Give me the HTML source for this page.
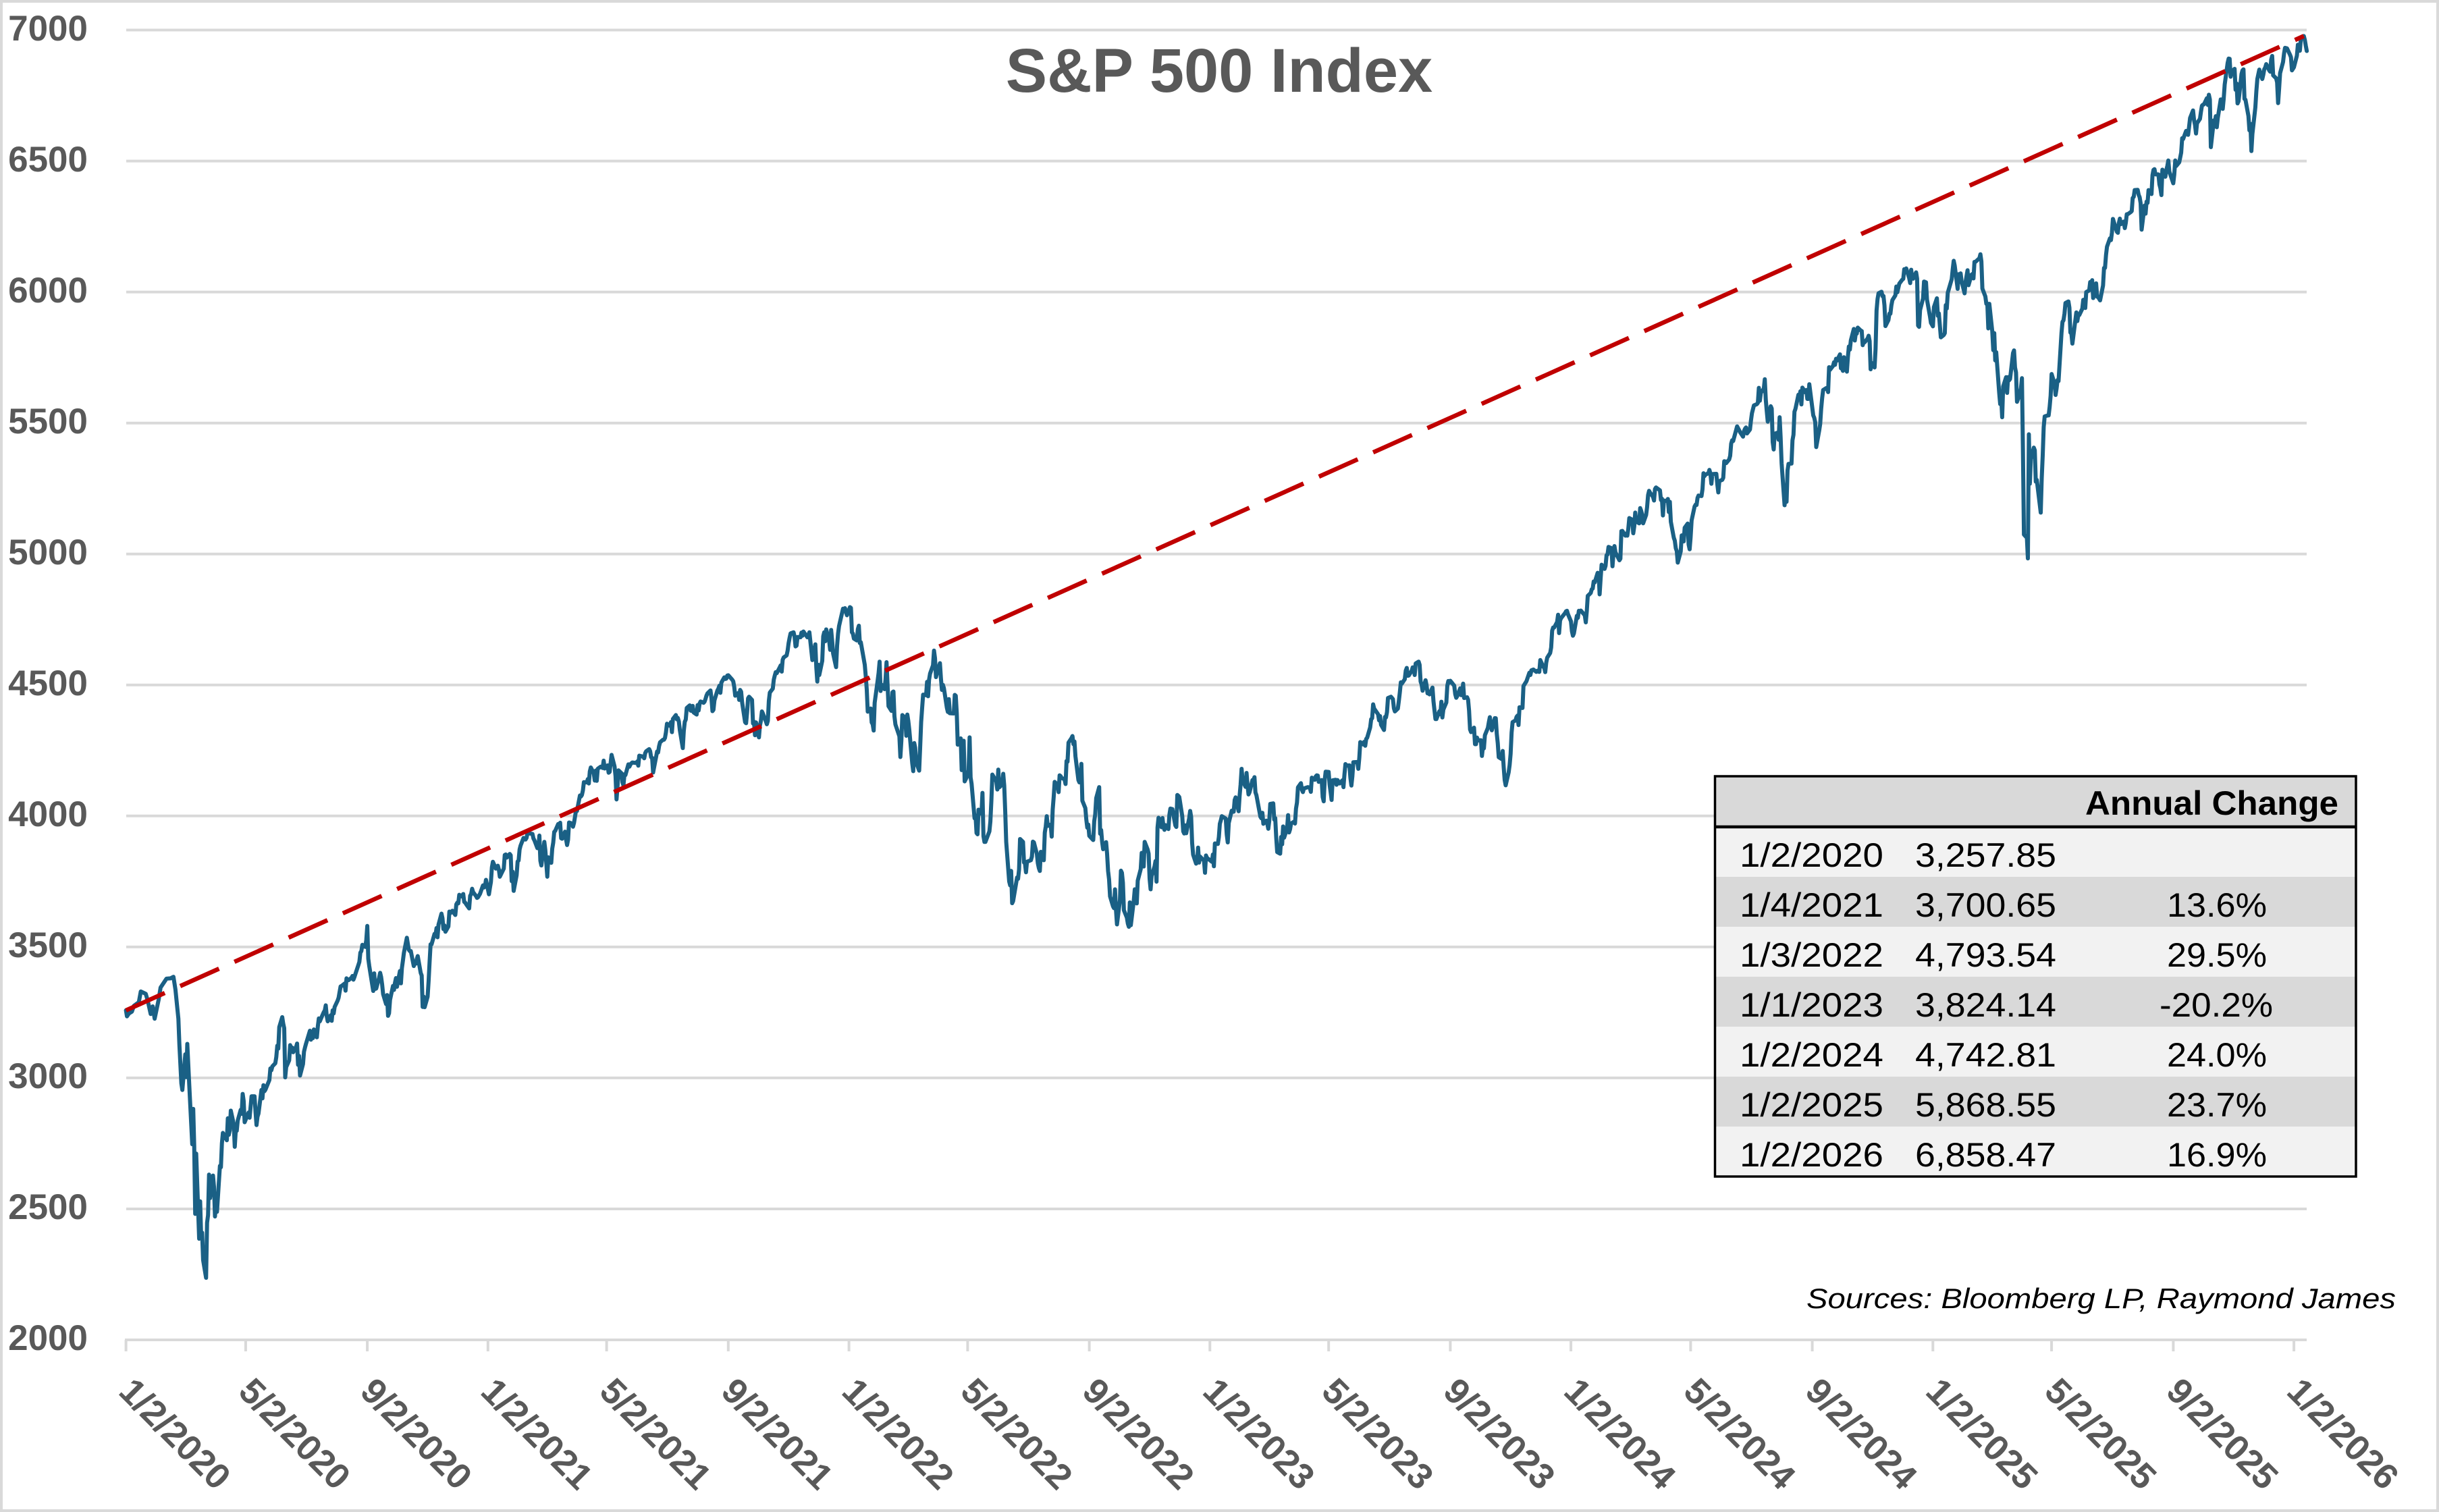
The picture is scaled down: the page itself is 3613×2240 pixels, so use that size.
<!DOCTYPE html>
<html>
<head>
<meta charset="utf-8">
<style>
html,body{margin:0;padding:0;background:#fff;}
svg{display:block;}
text{font-family:"Liberation Sans",Arial,sans-serif;}
</style>
</head>
<body>
<svg width="3613" height="2240" viewBox="0 0 3613 2240" xmlns="http://www.w3.org/2000/svg">
<rect x="0" y="0" width="3613" height="2240" fill="#ffffff"/>
<rect x="2" y="2" width="3609" height="2236" fill="none" stroke="#d9d9d9" stroke-width="4"/>

<!-- gridlines -->
<g stroke="#d9d9d9" stroke-width="4">
<line x1="187" y1="44.5" x2="3417" y2="44.5"/>
<line x1="187" y1="238.6" x2="3417" y2="238.6"/>
<line x1="187" y1="432.6" x2="3417" y2="432.6"/>
<line x1="187" y1="626.7" x2="3417" y2="626.7"/>
<line x1="187" y1="820.7" x2="3417" y2="820.7"/>
<line x1="187" y1="1014.8" x2="3417" y2="1014.8"/>
<line x1="187" y1="1208.8" x2="3417" y2="1208.8"/>
<line x1="187" y1="1402.9" x2="3417" y2="1402.9"/>
<line x1="187" y1="1596.9" x2="3417" y2="1596.9"/>
<line x1="187" y1="1791" x2="3417" y2="1791"/>
<line x1="185" y1="1985" x2="3417" y2="1985"/>
<!-- ticks -->
<line x1="186.6" y1="1985" x2="186.6" y2="2002"/>
<line x1="363.9" y1="1985" x2="363.9" y2="2002"/>
<line x1="544.1" y1="1985" x2="544.1" y2="2002"/>
<line x1="722.8" y1="1985" x2="722.8" y2="2002"/>
<line x1="898.6" y1="1985" x2="898.6" y2="2002"/>
<line x1="1078.8" y1="1985" x2="1078.8" y2="2002"/>
<line x1="1257.6" y1="1985" x2="1257.6" y2="2002"/>
<line x1="1433.4" y1="1985" x2="1433.4" y2="2002"/>
<line x1="1613.6" y1="1985" x2="1613.6" y2="2002"/>
<line x1="1792.3" y1="1985" x2="1792.3" y2="2002"/>
<line x1="1968.2" y1="1985" x2="1968.2" y2="2002"/>
<line x1="2148.4" y1="1985" x2="2148.4" y2="2002"/>
<line x1="2327.1" y1="1985" x2="2327.1" y2="2002"/>
<line x1="2504.4" y1="1985" x2="2504.4" y2="2002"/>
<line x1="2684.6" y1="1985" x2="2684.6" y2="2002"/>
<line x1="2863.3" y1="1985" x2="2863.3" y2="2002"/>
<line x1="3039.1" y1="1985" x2="3039.1" y2="2002"/>
<line x1="3219.4" y1="1985" x2="3219.4" y2="2002"/>
<line x1="3398.1" y1="1985" x2="3398.1" y2="2002"/>
</g>

<!-- y labels -->
<g font-size="53" font-weight="bold" fill="#595959" text-anchor="end">
<text x="130" y="60">7000</text>
<text x="130" y="254">6500</text>
<text x="130" y="448">6000</text>
<text x="130" y="642">5500</text>
<text x="130" y="836">5000</text>
<text x="130" y="1030">4500</text>
<text x="130" y="1224">4000</text>
<text x="130" y="1418">3500</text>
<text x="130" y="1612">3000</text>
<text x="130" y="1806">2500</text>
<text x="130" y="2000">2000</text>
</g>

<!-- x labels -->
<g font-size="53" font-weight="bold" fill="#595959">
<text transform="translate(173.6,2064) rotate(45)">1/2/2020</text>
<text transform="translate(350.9,2064) rotate(45)">5/2/2020</text>
<text transform="translate(531.1,2064) rotate(45)">9/2/2020</text>
<text transform="translate(709.8,2064) rotate(45)">1/2/2021</text>
<text transform="translate(885.6,2064) rotate(45)">5/2/2021</text>
<text transform="translate(1065.8,2064) rotate(45)">9/2/2021</text>
<text transform="translate(1244.6,2064) rotate(45)">1/2/2022</text>
<text transform="translate(1420.4,2064) rotate(45)">5/2/2022</text>
<text transform="translate(1600.6,2064) rotate(45)">9/2/2022</text>
<text transform="translate(1779.3,2064) rotate(45)">1/2/2023</text>
<text transform="translate(1955.2,2064) rotate(45)">5/2/2023</text>
<text transform="translate(2135.4,2064) rotate(45)">9/2/2023</text>
<text transform="translate(2314.1,2064) rotate(45)">1/2/2024</text>
<text transform="translate(2491.4,2064) rotate(45)">5/2/2024</text>
<text transform="translate(2671.6,2064) rotate(45)">9/2/2024</text>
<text transform="translate(2850.3,2064) rotate(45)">1/2/2025</text>
<text transform="translate(3026.1,2064) rotate(45)">5/2/2025</text>
<text transform="translate(3206.4,2064) rotate(45)">9/2/2025</text>
<text transform="translate(3385.1,2064) rotate(45)">1/2/2026</text>
</g>

<!-- title -->
<text x="1806" y="136" text-anchor="middle" font-size="92" font-weight="bold" fill="#595959">S&amp;P 500 Index</text>

<!-- S&P series -->
<g transform="matrix(1.4651 0 0 -0.3881 186.6 2761.2)">
<polyline fill="none" stroke="#1a6085" stroke-width="6" stroke-linejoin="round" stroke-linecap="round" vector-effect="non-scaling-stroke" points="
0,3258 1,3235 3,3246 6,3253 8,3275 13,3289 15,3330 20,3321 22,3295 25,3244 27,3273 29,3226 33,3298 35,3345 41,3379 45,3380 48,3386 50,3338 53,3226 54,3128 56,2979 57,2954 60,3090 61,3003 62,3130 64,2972 67,2747 68,2882 69,2741 70,2481 71,2711 74,2386 75,2529 76,2398 77,2409 78,2305 81,2237 82,2447 83,2476 84,2631 85,2541 88,2627 89,2585 90,2471 91,2527 92,2489 95,2664 96,2659 97,2750 98,2790 102,2762 103,2846 104,2783 105,2800 106,2875 109,2823 110,2737 111,2799 112,2798 113,2837 116,2878 117,2863 118,2939 119,2912 120,2831 124,2868 125,2848 127,2930 130,2930 131,2870 132,2820 133,2852 134,2864 137,2954 138,2922 139,2972 140,2949 141,2955 145,2992 146,3036 147,3029 148,3044 151,3056 152,3080 153,3123 154,3112 155,3194 158,3232 159,3207 160,3190 161,3002 162,3041 165,3067 166,3125 167,3113 168,3116 169,3098 172,3118 173,3131 174,3050 175,3084 176,3009 179,3053 180,3100 181,3116 182,3130 186,3180 187,3146 188,3169 189,3152 190,3185 193,3155 194,3197 195,3227 196,3216 197,3225 200,3251 201,3257 202,3277 203,3236 204,3216 207,3239 208,3218 209,3258 210,3246 211,3271 214,3295 215,3306 216,3328 217,3349 218,3351 221,3360 222,3333 223,3380 224,3373 225,3373 228,3382 229,3389 230,3375 231,3385 232,3397 235,3431 236,3443 237,3478 238,3484 239,3508 242,3500 243,3527 244,3580 245,3455 246,3427 250,3332 251,3399 252,3340 253,3341 256,3383 257,3401 258,3385 259,3357 260,3320 263,3282 264,3316 265,3237 266,3247 267,3298 270,3351 271,3336 272,3363 273,3381 274,3348 277,3408 278,3361 279,3419 280,3447 281,3477 284,3535 285,3512 286,3489 287,3484 288,3484 291,3427 292,3443 293,3436 294,3453 295,3465 298,3401 299,3391 300,3271 301,3310 302,3270 305,3310 306,3370 307,3443 308,3510 309,3510 312,3550 313,3545 314,3572 315,3537 316,3585 319,3627 320,3610 321,3568 322,3582 323,3558 326,3578 327,3635 328,3629 330,3638 333,3622 334,3662 335,3669 336,3666 337,3699 340,3692 341,3702 342,3672 343,3669 344,3663 347,3647 348,3695 349,3702 350,3722 351,3709 354,3694 355,3687 356,3690 358,3703 361,3735 362,3727 363,3732 364,3756
367,3701 368,3726 369,3748 370,3804 371,3825 374,3799 375,3802 376,3810 377,3796 378,3768 382,3799 383,3851 384,3853 385,3841 388,3855 389,3850 390,3751 391,3787 392,3714 395,3774 396,3826 397,3830 398,3872 399,3887 402,3916 403,3911 404,3910 405,3916 406,3934 410,3932 411,3931 412,3914 413,3907 416,3877 417,3881 418,3925 419,3829 420,3811 423,3901 424,3870 425,3820 426,3768 427,3842 430,3821 431,3875 432,3898 433,3939 434,3943 437,3969 438,3963 439,3974 440,3915 441,3913 444,3940 445,3910 446,3889 447,3909 448,3975 451,3971 452,3959 453,3973 455,4020 456,4019 459,4078 460,4074 461,4080 462,4097 463,4129 466,4128 467,4141 468,4124 469,4170 470,4185 473,4163 474,4135 475,4173 476,4134 477,4180 480,4188 481,4187 482,4183 483,4211 484,4181 487,4193 488,4165 489,4168 490,4201 491,4233 494,4189 495,4152 496,4063 497,4112 498,4174 501,4163 502,4128 503,4116 504,4159 505,4156 508,4197 509,4188 510,4196 511,4201 512,4204 516,4202 517,4208 518,4192 519,4230 522,4227 523,4227 524,4220 525,4240 526,4247 529,4255 530,4247 531,4224 532,4222 533,4166 536,4225 537,4246 538,4242 539,4266 540,4281 543,4291 544,4291 545,4298 546,4320 547,4352 550,4344 551,4358 552,4320 553,4370 556,4385 557,4369 558,4374 559,4361 560,4328 563,4259 564,4324 565,4359 566,4368 567,4412 570,4422 571,4402 572,4401 573,4420 574,4395 577,4387 578,4423 579,4403 580,4429 581,4437 584,4432 585,4436 586,4447 587,4460 588,4468 591,4479 592,4449 593,4400 594,4405 595,4441 598,4479 599,4486 600,4497 601,4470 602,4509 605,4529 606,4523 607,4524 608,4536 609,4537 613,4520 614,4514 615,4493 616,4459 619,4469 620,4443 621,4481 622,4474 623,4433 626,4358 627,4354 628,4395 629,4449 630,4455 633,4443 634,4353 635,4360 636,4308 637,4357 640,4300 641,4345 642,4364 643,4399 644,4391 647,4361 648,4350 649,4363 650,4439 651,4471 654,4486 655,4520 656,4536 657,4549 658,4545 661,4567 662,4575 663,4551 664,4596 665,4605 668,4613 669,4631 670,4660 671,4680 672,4697 675,4701 676,4685 677,4647 678,4650 679,4683 682,4682 683,4700 684,4688 685,4704 686,4698 689,4682 690,4690 691,4701 694,4595 697,4655 698,4567 699,4513 700,4577 701,4538 704,4592 705,4686 706,4701 707,4667 708,4712 711,4668 712,4634 713,4710 714,4669 715,4620 718,4568 719,4649 720,4696 721,4725 725,4791 726,4786 727,4793 728,4778 729,4766
732,4797 733,4794 734,4701 735,4696 736,4677 739,4670 740,4713 741,4726 742,4660 743,4663 747,4577 748,4533 749,4483 750,4398 753,4410 754,4357 755,4350 756,4326 757,4432 760,4516 761,4546 762,4589 763,4477 764,4501 767,4484 768,4521 769,4587 770,4504 771,4419 774,4401 775,4472 776,4475 777,4380 778,4349 782,4304 783,4225 784,4288 785,4385 788,4374 789,4306 790,4387 791,4363 792,4329 795,4201 796,4171 797,4278 798,4260 799,4204 802,4173 803,4262 804,4358 805,4412 806,4463 809,4461 810,4512 811,4457 812,4520 813,4543 816,4575 817,4631 818,4602 819,4530 820,4546 823,4583 824,4525 825,4481 826,4500 827,4488 830,4413 831,4397 832,4446 833,4392 837,4391 838,4462 839,4459 840,4393 841,4272 844,4296 845,4175 846,4183 847,4287 848,4132 851,4155 852,4175 853,4300 854,4147 855,4123 858,3991 859,4001 860,3935 861,3930 862,4024 865,4008 866,4088 867,3923 868,3901 869,3901 873,3941 874,3979 875,4058 876,4158 880,4132 881,4101 882,4177 883,4109 886,4121 887,4161 888,4116 889,4018 890,3901 893,3750 894,3735 895,3790 896,3667 897,3675 901,3765 902,3760 903,3796 904,3912 907,3901 908,3822 909,3819 910,3785 911,3825 915,3831 916,3845 917,3902 918,3899 921,3855 922,3819 923,3801 924,3790 925,3863 928,3831 929,3936 930,3960 931,3999 932,3962 935,3967 936,3921 937,4024 938,4072 939,4130 942,4118 943,4091 944,4155 945,4152 946,4145 949,4140 950,4122 951,4210 952,4207 953,4280 956,4297 957,4305 958,4274 959,4284 960,4228 963,4137 964,4128 965,4140 966,4199 967,4058 970,4030 971,3986 972,3955 973,3967 974,3924 978,3908 979,3980 980,4006 981,4068 984,4110 985,3932 986,3946 987,3901 988,3873 991,3900 992,3856 993,3790 994,3758 995,3693 998,3655 999,3648 1000,3720 1001,3641 1002,3586 1005,3679 1006,3791 1007,3783 1008,3745 1009,3640 1012,3612 1013,3589 1014,3577 1015,3670 1016,3583 1019,3677 1020,3720 1021,3696 1022,3666 1023,3753 1026,3797 1027,3859 1028,3831 1029,3807 1030,3901 1033,3872 1034,3856 1035,3760 1036,3720 1037,3771 1040,3807 1041,3828 1042,3749 1043,3956 1044,3993 1047,3957 1048,3992 1049,3959 1050,3947 1051,3965 1054,3950 1055,4004 1056,4028 1058,4026 1061,3964 1062,3958 1063,4080 1064,4077 1065,4072 1068,3999 1069,3941 1070,3933 1071,3964 1072,3934 1075,3991 1076,4019 1077,3996 1078,3896 1079,3852 1082,3818 1083,3822 1084,3879 1085,3822 1086,3845 1090,3829 1091,3783 1092,3849 1093,3840
1098,3825 1099,3853 1100,3808 1101,3895 1104,3893 1105,3919 1106,3970 1107,3983 1108,3999 1112,3990 1113,3929 1114,3899 1115,3973 1118,4020 1119,4017 1120,4016 1121,4061 1122,4071 1125,4018 1126,4077 1127,4120 1128,4180 1129,4136 1132,4111 1133,4164 1134,4118 1135,4082 1136,4090 1139,4137 1140,4136 1141,4148 1142,4090 1143,4079 1147,3997 1148,3991 1149,4012 1150,3970 1153,3982 1154,3970 1155,3951 1156,3982 1157,4046 1160,4048 1161,3986 1162,3992 1163,3918 1164,3862 1167,3856 1168,3920 1169,3892 1170,3960 1171,3917 1174,3952 1175,4003 1176,3937 1177,3949 1178,3971 1181,3978 1182,3971 1183,4028 1184,4051 1185,4109 1188,4125 1189,4100 1190,4091 1191,4105 1195,4110 1196,4109 1197,4108 1198,4092 1199,4146 1202,4138 1203,4151 1204,4155 1205,4154 1206,4130 1209,4137 1210,4072 1211,4056 1212,4136 1213,4169 1216,4168 1217,4119 1218,4091 1219,4061 1220,4136 1223,4138 1224,4119 1225,4137 1226,4130 1227,4124 1230,4136 1231,4110 1232,4159 1233,4198 1234,4192 1237,4193 1238,4146 1239,4116 1240,4151 1241,4205 1245,4206 1246,4180 1247,4221 1248,4282 1251,4273 1252,4283 1253,4268 1254,4294 1255,4299 1258,4338 1259,4369 1260,4373 1261,4426 1262,4410 1266,4388 1267,4365 1268,4381 1269,4348 1272,4328 1273,4378 1274,4376 1275,4396 1276,4450 1279,4455 1281,4446 1282,4411 1283,4399 1286,4410 1287,4439 1288,4472 1289,4510 1290,4505 1293,4522 1294,4555 1295,4565 1296,4535 1297,4536 1300,4554 1301,4567 1302,4567 1303,4538 1304,4582 1307,4589 1308,4577 1309,4513 1310,4502 1311,4478 1314,4518 1315,4499 1316,4468 1317,4468 1318,4464 1321,4490 1322,4438 1323,4404 1324,4370 1325,4370 1328,4400 1329,4388 1330,4436 1331,4376 1332,4406 1335,4433 1336,4497 1337,4515 1338,4508 1339,4516 1343,4497 1344,4465 1345,4451 1346,4457 1349,4487 1350,4461 1351,4467 1352,4505 1353,4450 1356,4453 1357,4444 1358,4402 1359,4330 1360,4320 1363,4337 1364,4274 1365,4274 1366,4299 1367,4288 1370,4289 1371,4229 1372,4263 1373,4258 1374,4308 1377,4336 1378,4358 1379,4377 1380,4349 1381,4327 1384,4373 1385,4373 1386,4314 1387,4278 1388,4224 1391,4217 1392,4248 1393,4186 1394,4137 1395,4117 1398,4166 1399,4194 1400,4237 1401,4318 1402,4358 1405,4365 1406,4378 1407,4383 1408,4347 1409,4415 1412,4412 1413,4496 1414,4502 1415,4508 1416,4514 1419,4547 1420,4538 1421,4556 1423,4559 1426,4550 1427,4554 1428,4551 1429,4550 1430,4595 1433,4569 1434,4567 1435,4549 1436,4585 1437,4604 1440,4622 1441,4643 1442,4707 1443,4719 1444,4719 1447,4740 1448,4768 1449,4698 1450,4746 1451,4755 1455,4774 1456,4781 1457,4783 1458,4770
1461,4743 1462,4705 1463,4688 1464,4697 1467,4764 1468,4756 1469,4783 1470,4780 1471,4784 1475,4766 1476,4739 1477,4781 1478,4840 1481,4851 1482,4865 1483,4868 1484,4895 1485,4891 1488,4928 1489,4925 1490,4846 1491,4906 1492,4959 1495,4943 1496,4955 1497,4995 1498,4998 1499,5027 1502,5022 1503,4953 1504,5001 1505,5030 1506,5006 1510,4976 1511,4982 1512,5087 1513,5088 1516,5070 1517,5078 1518,5070 1519,5096 1520,5137 1523,5131 1524,5079 1525,5105 1526,5158 1527,5124 1530,5117 1531,5175 1532,5165 1533,5150 1534,5117 1537,5149 1538,5179 1539,5225 1540,5241 1541,5234 1544,5218 1545,5204 1546,5248 1547,5254 1551,5243 1552,5206 1553,5211 1554,5147 1555,5204 1558,5202 1559,5210 1560,5160 1561,5199 1562,5123 1565,5062 1566,5051 1567,5022 1568,5011 1569,4967 1572,5010 1573,5071 1574,5071 1575,5048 1576,5100 1579,5116 1580,5036 1581,5018 1582,5064 1583,5128 1586,5181 1587,5188 1588,5187 1589,5214 1590,5223 1593,5221 1594,5247 1595,5308 1596,5297 1597,5303 1600,5308 1601,5321 1602,5307 1603,5268 1604,5305 1608,5306 1609,5266 1610,5235 1611,5278 1614,5283 1615,5291 1616,5354 1617,5353 1618,5347 1621,5361 1622,5375 1623,5421 1624,5434 1625,5431 1628,5473 1629,5487 1631,5473 1632,5465 1635,5448 1636,5469 1637,5478 1638,5483 1639,5460 1642,5475 1643,5509 1644,5537 1646,5567 1649,5572 1650,5577 1651,5634 1652,5585 1653,5615 1656,5631 1657,5667 1658,5589 1659,5545 1660,5505 1663,5564 1664,5555 1665,5427 1666,5399 1667,5459 1670,5463 1671,5436 1672,5522 1673,5446 1674,5346 1677,5186 1678,5240 1679,5199 1680,5319 1681,5344 1684,5345 1685,5434 1686,5455 1687,5543 1688,5554 1691,5608 1692,5597 1693,5621 1694,5571 1695,5635 1698,5617 1699,5626 1700,5592 1701,5592 1702,5648 1706,5529 1707,5520 1708,5503 1709,5408 1712,5471 1713,5496 1714,5554 1715,5595 1716,5626 1719,5633 1720,5634 1721,5618 1722,5713 1723,5703 1726,5718 1727,5732 1728,5722 1729,5745 1730,5738 1733,5762 1734,5709 1735,5709 1736,5699 1737,5751 1740,5696 1741,5751 1742,5792 1743,5780 1744,5815 1747,5859 1748,5815 1749,5842 1750,5841 1751,5864 1754,5853 1755,5851 1756,5797 1757,5809 1758,5808 1761,5823 1762,5833 1763,5813 1764,5705 1765,5729 1768,5712 1769,5783 1770,5929 1771,5973 1772,5995 1775,6001 1776,5984 1777,5985 1778,5949 1779,5870 1782,5893 1783,5917 1784,5917 1785,5949 1786,5969 1789,5987 1790,6021 1791,5999 1793,6032 1796,6047 1797,6050 1798,6087 1799,6075 1800,6090 1803,6053 1804,6034 1805,6085 1806,6052 1807,6051 1810,6075 1811,6051 1812,5872 1813,5867 1814,5931 1817,5975 1818,6040 1820,6037 1821,5971 1824,5907 1825,5882
1827,5869 1828,5942 1831,5976 1832,5909 1833,5918 1835,5827 1838,5836 1839,5843 1840,5950 1841,5937 1842,5997 1846,6049 1847,6086 1848,6119 1849,6101 1852,6012 1853,6068 1854,6039 1855,6071 1856,6041 1859,5995 1860,6038 1861,6061 1862,6083 1863,6026 1866,6066 1867,6069 1868,6052 1869,6115 1870,6115 1874,6129 1875,6144 1876,6117 1877,6013 1880,5983 1881,5955 1882,5956 1883,5861 1884,5955 1887,5850 1888,5778 1889,5843 1890,5739 1891,5770 1894,5615 1895,5572 1896,5599 1897,5522 1898,5639 1901,5675 1902,5615 1903,5675 1904,5663 1905,5668 1908,5767 1909,5777 1910,5712 1911,5693 1912,5581 1915,5612 1916,5633 1917,5671 1918,5397 1919,5074 1922,5062 1923,4983 1924,5457 1925,5268 1926,5363 1929,5406 1930,5396 1931,5276 1932,5283 1936,5158 1937,5288 1938,5376 1939,5485 1940,5525 1943,5529 1944,5529 1945,5561 1946,5604 1947,5687 1950,5650 1951,5607 1952,5631 1953,5664 1954,5660 1957,5844 1958,5886 1959,5892 1960,5917 1961,5958 1964,5964 1965,5940 1966,5845 1967,5842 1968,5803 1972,5922 1973,5889 1974,5912 1975,5912 1978,5936 1979,5970 1980,5971 1981,5939 1982,6000 1985,6006 1986,6038 1987,6022 1988,6045 1989,5977 1992,6033 1993,5982 1994,5981 1996,5968 1999,6025 2000,6092 2001,6092 2002,6141 2003,6173 2006,6205 2007,6198 2008,6227 2009,6279 2013,6230 2014,6226 2015,6263 2016,6280 2017,6259 2020,6269 2021,6244 2022,6264 2023,6297 2024,6297 2027,6305 2028,6309 2029,6359 2030,6363 2031,6389 2034,6390 2035,6371 2036,6362 2037,6339 2038,6238 2041,6330 2042,6299 2043,6345 2044,6340 2045,6389 2048,6374 2049,6446 2050,6466 2051,6469 2052,6449 2055,6449 2056,6411 2057,6396 2058,6370 2059,6467 2062,6440 2063,6466 2064,6481 2065,6502 2066,6460 2070,6415 2071,6448 2072,6502 2073,6481 2076,6495 2077,6513 2078,6532 2079,6587 2080,6584 2083,6615 2084,6606 2085,6600 2086,6631 2087,6664 2090,6693 2091,6657 2092,6638 2093,6605 2094,6644 2097,6661 2098,6688 2099,6711 2100,6715 2101,6716 2104,6740 2105,6714 2106,6753 2107,6735 2108,6553 2111,6655 2112,6644 2113,6671 2114,6629 2115,6664 2118,6735 2119,6735 2120,6699 2121,6738 2122,6792 2125,6875 2126,6891 2127,6890 2128,6822 2129,6840 2132,6852 2133,6772 2134,6796 2135,6720 2136,6728 2139,6832 2140,6846 2141,6850 2142,6737 2143,6734 2146,6672 2147,6617 2148,6642 2149,6538 2150,6603 2153,6705 2154,6766 2155,6813 2157,6849 2160,6813 2161,6829 2162,6850 2163,6857 2164,6870 2167,6846 2168,6841 2169,6887 2170,6901 2171,6827 2174,6816 2175,6800 2176,6721 2177,6775 2178,6835 2181,6878 2182,6910 2183,6932 2185,6930 2188,6906 2189,6896 2190,6846 2192,6858 2195,6902 2196,6944 2197,6921 2198,6921 2199,6966 2202,6977 2203,6963 2204,6940 2205,6920
"/>
</g>

<!-- trend line -->
<line x1="186.6" y1="1496.8" x2="3412.7" y2="53.4" stroke="#c00000" stroke-width="6.5" stroke-dasharray="63 25"/>

<!-- table -->
<g>
<rect x="2540.5" y="1150" width="949.5" height="75" fill="#d9d9d9"/>
<rect x="2540.5" y="1225" width="949.5" height="74" fill="#f2f2f2"/>
<rect x="2540.5" y="1299" width="949.5" height="74" fill="#d9d9d9"/>
<rect x="2540.5" y="1373" width="949.5" height="74" fill="#f2f2f2"/>
<rect x="2540.5" y="1447" width="949.5" height="74" fill="#d9d9d9"/>
<rect x="2540.5" y="1521" width="949.5" height="74" fill="#f2f2f2"/>
<rect x="2540.5" y="1595" width="949.5" height="74" fill="#d9d9d9"/>
<rect x="2540.5" y="1669" width="949.5" height="74" fill="#f2f2f2"/>
<line x1="2540.5" y1="1225" x2="3490" y2="1225" stroke="#000" stroke-width="4.5"/>
<rect x="2540.5" y="1150" width="949.5" height="593" fill="none" stroke="#000" stroke-width="3.5"/>
<text x="3464" y="1207" text-anchor="end" font-size="50" font-weight="bold" fill="#000" textLength="375" lengthAdjust="spacingAndGlyphs">Annual Change</text>
<g font-size="50" fill="#000">
<text x="2577" y="1284" textLength="213" lengthAdjust="spacingAndGlyphs">1/2/2020</text>
<text x="2837" y="1284" textLength="209" lengthAdjust="spacingAndGlyphs">3,257.85</text>
<text x="2577" y="1358" textLength="213" lengthAdjust="spacingAndGlyphs">1/4/2021</text>
<text x="2837" y="1358" textLength="209" lengthAdjust="spacingAndGlyphs">3,700.65</text>
<text x="3284" y="1358" text-anchor="middle" textLength="148" lengthAdjust="spacingAndGlyphs">13.6%</text>
<text x="2577" y="1432" textLength="213" lengthAdjust="spacingAndGlyphs">1/3/2022</text>
<text x="2837" y="1432" textLength="209" lengthAdjust="spacingAndGlyphs">4,793.54</text>
<text x="3284" y="1432" text-anchor="middle" textLength="148" lengthAdjust="spacingAndGlyphs">29.5%</text>
<text x="2577" y="1506" textLength="213" lengthAdjust="spacingAndGlyphs">1/1/2023</text>
<text x="2837" y="1506" textLength="209" lengthAdjust="spacingAndGlyphs">3,824.14</text>
<text x="3283" y="1506" text-anchor="middle" textLength="168" lengthAdjust="spacingAndGlyphs">-20.2%</text>
<text x="2577" y="1580" textLength="213" lengthAdjust="spacingAndGlyphs">1/2/2024</text>
<text x="2837" y="1580" textLength="209" lengthAdjust="spacingAndGlyphs">4,742.81</text>
<text x="3284" y="1580" text-anchor="middle" textLength="148" lengthAdjust="spacingAndGlyphs">24.0%</text>
<text x="2577" y="1654" textLength="213" lengthAdjust="spacingAndGlyphs">1/2/2025</text>
<text x="2837" y="1654" textLength="209" lengthAdjust="spacingAndGlyphs">5,868.55</text>
<text x="3284" y="1654" text-anchor="middle" textLength="148" lengthAdjust="spacingAndGlyphs">23.7%</text>
<text x="2577" y="1728" textLength="213" lengthAdjust="spacingAndGlyphs">1/2/2026</text>
<text x="2837" y="1728" textLength="209" lengthAdjust="spacingAndGlyphs">6,858.47</text>
<text x="3284" y="1728" text-anchor="middle" textLength="148" lengthAdjust="spacingAndGlyphs">16.9%</text>
</g>
</g>

<!-- source -->
<text x="2676" y="1938" font-size="42" font-style="italic" fill="#000" textLength="873" lengthAdjust="spacingAndGlyphs">Sources: Bloomberg LP, Raymond James</text>
</svg>
</body>
</html>
